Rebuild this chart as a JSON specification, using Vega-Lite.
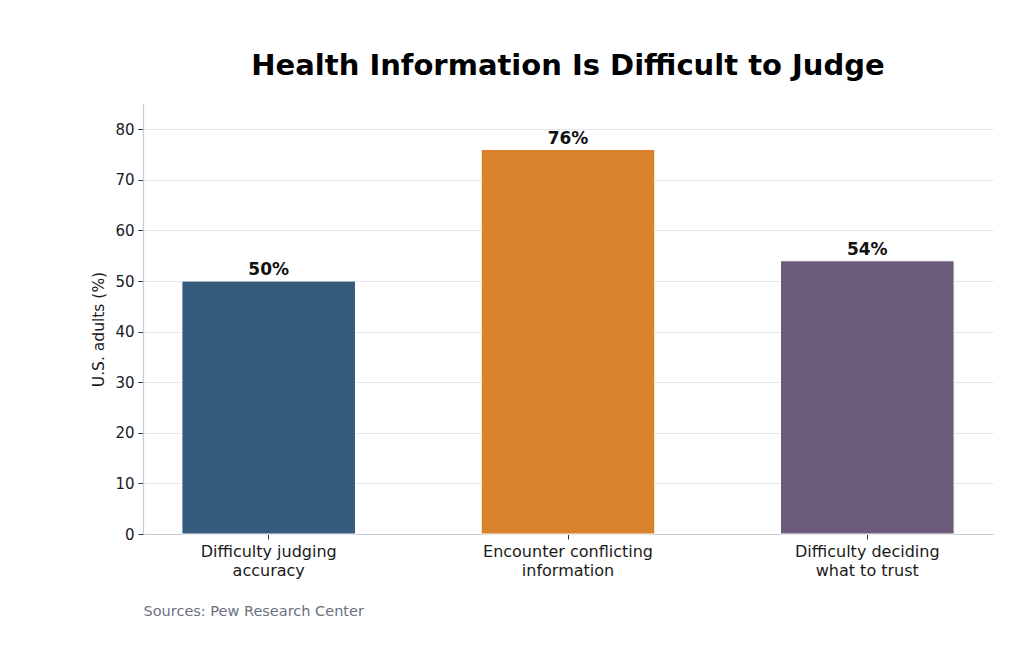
{
  "$schema": "https://vega.github.io/schema/vega-lite/v6.json",
  "autosize": {"type": "none"},
  "width": 850,
  "height": 430,
  "padding": {"left": 143, "top": 104, "right": 31, "bottom": 118},
  "background": "white",
  "config": {
    "view": {"stroke": null},
    "font": "DejaVu Sans",
    "axis": {"labelFont": "DejaVu Sans", "titleFont": "DejaVu Sans"}
  },
  "title": {
    "text": "Health Information Is Difficult to Judge",
    "font": "DejaVu Sans",
    "fontSize": 29,
    "fontWeight": "bold",
    "color": "#000000",
    "anchor": "middle",
    "offset": 23
  },
  "data": {
    "values": [
      {"measure": "Difficulty judging accuracy", "share": 50, "color": "#355c7d"},
      {"measure": "Encounter conflicting information", "share": 76, "color": "#d9822b"},
      {"measure": "Difficulty deciding what to trust", "share": 54, "color": "#6c5b7b"}
    ]
  },
  "encoding": {
    "x": {
      "field": "measure",
      "type": "nominal",
      "sort": null,
      "scale": {"paddingInner": 0.42, "paddingOuter": 0.13},
      "axis": {
        "title": "Sources: Pew Research Center",
        "titleAnchor": "start",
        "titleAlign": "left",
        "titleFontWeight": "normal",
        "titleFontSize": 14.5,
        "titleColor": "#6b7280",
        "titlePadding": 26,
        "labelAngle": 0,
        "labelFontSize": 16,
        "labelColor": "#1a1a1a",
        "labelExpr": "[join(slice(split(datum.label, ' '), 0, 2), ' '), join(slice(split(datum.label, ' '), 2), ' ')]",
        "labelLineHeight": 19,
        "labelPadding": 4,
        "domainColor": "#c5cad6",
        "domainWidth": 1.2,
        "tickColor": "#333333",
        "tickSize": 5,
        "grid": false
      }
    },
    "y": {
      "field": "share",
      "type": "quantitative",
      "scale": {"domain": [0, 85], "nice": false},
      "axis": {
        "title": "U.S. adults (%)",
        "titleFontSize": 15.5,
        "titleFontWeight": "normal",
        "titleColor": "#1a1a1a",
        "titlePadding": 8,
        "titleY": 225,
        "values": [0, 10, 20, 30, 40, 50, 60, 70, 80],
        "labelFontSize": 15,
        "labelColor": "#1a1a1a",
        "labelPadding": 4,
        "domainColor": "#c5cad6",
        "domainWidth": 1.2,
        "tickColor": "#333333",
        "tickSize": 5,
        "grid": true,
        "gridColor": "#e3e6ec",
        "gridWidth": 1
      }
    }
  },
  "layer": [
    {
      "mark": {"type": "bar", "stroke": "#ffffff", "strokeWidth": 1},
      "encoding": {
        "color": {"field": "color", "type": "nominal", "scale": null}
      }
    },
    {
      "transform": [{"calculate": "datum.share + '%'", "as": "label"}],
      "mark": {"type": "text", "baseline": "alphabetic", "dy": -6, "fontSize": 17, "fontWeight": "bold", "color": "#111111"},
      "encoding": {
        "text": {"field": "label", "type": "nominal"}
      }
    }
  ]
}
